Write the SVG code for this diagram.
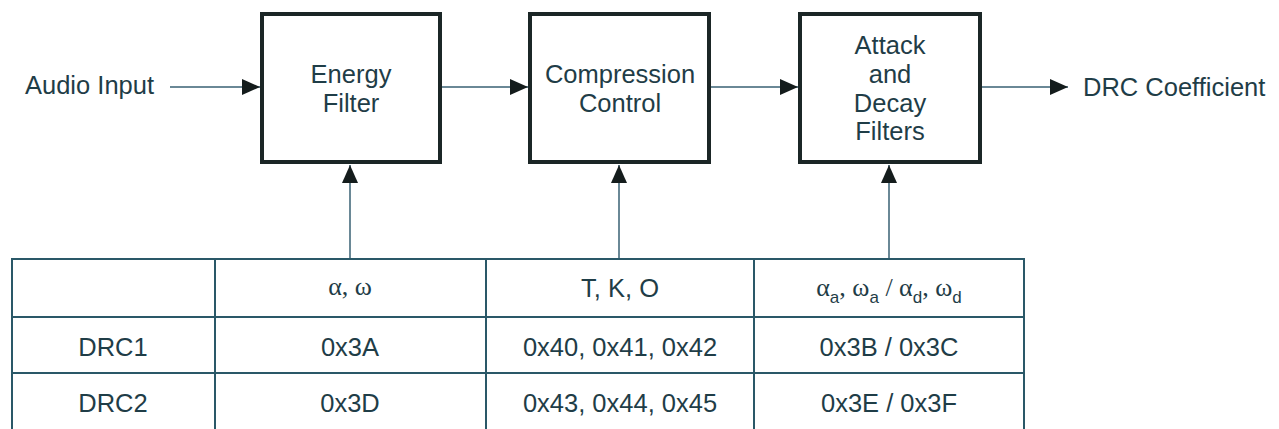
<svg xmlns="http://www.w3.org/2000/svg" width="1279" height="429" viewBox="0 0 1279 429">
<style>
.box{fill:#fff;stroke:#1b2626;stroke-width:4}
.t{font-family:"Liberation Sans",Arial,sans-serif;font-size:25.5px;fill:#1f3d47;text-anchor:middle}
.l{font-family:"Liberation Sans",Arial,sans-serif;font-size:25.5px;fill:#1f3d47}
.g{font-family:"Liberation Serif","Times New Roman",serif;font-size:26px;fill:#1f3d47}
.s{font-family:"Liberation Sans",Arial,sans-serif;font-size:17px}
.c{stroke:#6a8896;stroke-width:2;fill:none}
.tb{stroke:#2a5868;stroke-width:2;fill:none}
</style>
<defs>
<marker id="ah" markerWidth="18" markerHeight="16" refX="18" refY="8" orient="auto" markerUnits="userSpaceOnUse">
<path d="M0,0 L18,8 L0,16 Z" fill="#141c1c"/>
</marker>
</defs>
<rect width="1279" height="429" fill="#fff"/>
<g id="connectors">
<line class="c" x1="170" y1="87" x2="260" y2="87" marker-end="url(#ah)"/>
<line class="c" x1="442" y1="87" x2="528" y2="87" marker-end="url(#ah)"/>
<line class="c" x1="711" y1="87" x2="798" y2="87" marker-end="url(#ah)"/>
<line class="c" x1="982" y1="87" x2="1068" y2="87" marker-end="url(#ah)"/>
<line class="c" x1="350" y1="259" x2="350" y2="165" marker-end="url(#ah)"/>
<line class="c" x1="619" y1="259" x2="619" y2="165" marker-end="url(#ah)"/>
<line class="c" x1="889" y1="259" x2="889" y2="165" marker-end="url(#ah)"/>
</g>
<g id="audio-input"><text class="l" x="25" y="94">Audio Input</text></g>
<g id="drc-coefficient"><text class="l" x="1083" y="96">DRC Coefficient</text></g>
<g id="energy-filter">
<rect class="box" x="262" y="14" width="178" height="148"/>
<text class="t" x="351" y="83">Energy</text>
<text class="t" x="351" y="112">Filter</text>
</g>
<g id="compression-control">
<rect class="box" x="530" y="14" width="179" height="148"/>
<text class="t" x="620" y="83">Compression</text>
<text class="t" x="620" y="112">Control</text>
</g>
<g id="attack-decay">
<rect class="box" x="800" y="14" width="180" height="148"/>
<text class="t" x="890" y="54">Attack</text>
<text class="t" x="890" y="83">and</text>
<text class="t" x="890" y="112">Decay</text>
<text class="t" x="890" y="140">Filters</text>
</g>
<g id="table">
<path class="tb" d="M12,431 V259 H1024 V431 M215,259 V431 M486,259 V431 M754,259 V431 M12,317 H1024 M12,373 H1024"/>
<text class="g" x="350" y="295" text-anchor="middle">α, ω</text>
<text class="t" x="620" y="297">T, K, O</text>
<text class="g" x="889" y="296" text-anchor="middle">α<tspan class="s" dy="7">a</tspan><tspan dy="-7">, ω</tspan><tspan class="s" dy="7">a</tspan><tspan dy="-7"> / α</tspan><tspan class="s" dy="7">d</tspan><tspan dy="-7">, ω</tspan><tspan class="s" dy="7">d</tspan></text>
<text class="t" x="113" y="356">DRC1</text>
<text class="t" x="350" y="356">0x3A</text>
<text class="t" x="620" y="356">0x40, 0x41, 0x42</text>
<text class="t" x="889" y="356">0x3B / 0x3C</text>
<text class="t" x="113" y="412">DRC2</text>
<text class="t" x="350" y="412">0x3D</text>
<text class="t" x="620" y="412">0x43, 0x44, 0x45</text>
<text class="t" x="889" y="412">0x3E / 0x3F</text>
</g>
</svg>
